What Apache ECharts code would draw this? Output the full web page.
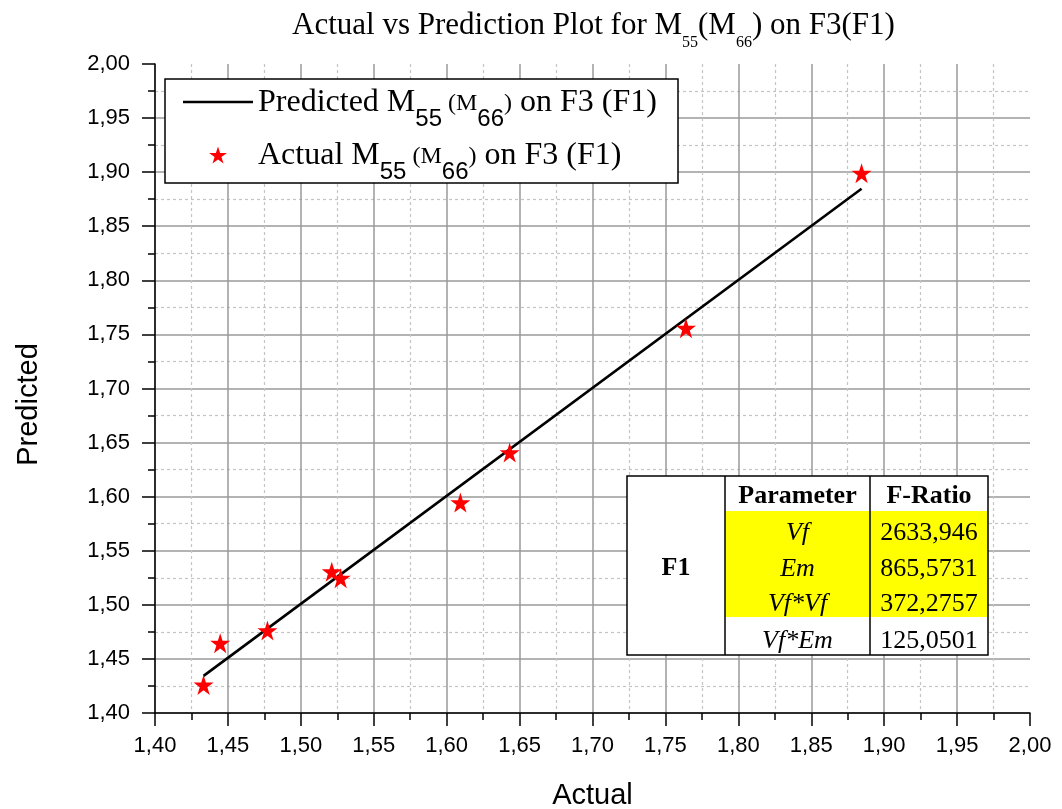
<!DOCTYPE html>
<html>
<head>
<meta charset="utf-8">
<script src="https://cdn.jsdelivr.net/npm/echarts@6/dist/echarts.min.js"></script>
<style>html,body{margin:0;padding:0;background:#fff}#c{width:1062px;height:809px}</style>
</head>
<body>
<div id="c"></div>
<script>
// ---- data ----
const actualX = [1.4333, 1.4447, 1.4771, 1.5212, 1.5273, 1.6094, 1.6432, 1.7641, 1.8845];
const actualY = [1.4260, 1.4645, 1.4762, 1.5307, 1.5246, 1.5945, 1.6408, 1.7558, 1.8991];
const lineX = [1.4333, 1.8845];
const lineY = [1.4343, 1.8846];
const axisMin = 1.40, axisMax = 2.00, axisStep = 0.05;
const tableGroup = 'F1';
const tableHeader = ['Parameter', 'F-Ratio'];
const tableParams = ['Vf', 'Em', 'Vf*Vf', 'Vf*Em'];
const tableFRatio = ['2633,946', '865,5731', '372,2757', '125,0501'];
const seriesNames = ['Predicted M55 (M66) on F3 (F1)', 'Actual M55 (M66) on F3 (F1)'];

const chart = echarts.init(document.getElementById('c'), null, {renderer: 'canvas'});
const fmt = v => v.toFixed(2).replace('.', ',');
const serif = '"Liberation Serif", "Times New Roman", serif';
const sans = '"Liberation Sans", Arial, sans-serif';

const legendRich = {
  m: {fontFamily: serif, fontSize: 32, lineHeight: 32, verticalAlign: 'top', padding: [1, 0, 0, 0], color: '#000'},
  p: {fontFamily: serif, fontSize: 24, lineHeight: 26, verticalAlign: 'top', padding: [6, 0, 0, 0], color: '#000'},
  s: {fontFamily: sans, fontSize: 24, lineHeight: 24, verticalAlign: 'top', padding: [21, 0, 25, 0], color: '#000'}
};
function legendFmt(name) {
  const head = name.startsWith('Predicted') ? 'Predicted' : 'Actual';
  return '{m|' + head + ' M}{s|55}{p| (M}{s|66}{p|)}{m| on F3 (F1)}';
}

// table graphics
const tX = [627, 725, 870, 988];
const tY = [476, 511, 617, 655];
const rowY = [496, 533, 569, 604, 641];
const TZ = 100;
const tbl = [];
tbl.push({type: 'rect', z: TZ, shape: {x: tX[0], y: tY[0], width: tX[3] - tX[0], height: tY[3] - tY[0]}, style: {fill: '#fff'}});
tbl.push({type: 'rect', z: TZ + 1, shape: {x: tX[1], y: tY[1], width: tX[3] - tX[1], height: tY[2] - tY[1]}, style: {fill: '#ffff00'}});
tbl.push({type: 'rect', z: TZ + 2, shape: {x: tX[0], y: tY[0], width: tX[3] - tX[0], height: tY[3] - tY[0]}, style: {fill: 'none', stroke: '#000', lineWidth: 1.5}});
tbl.push({type: 'line', z: TZ + 2, shape: {x1: tX[1], y1: tY[0], x2: tX[1], y2: tY[3]}, style: {stroke: '#000', lineWidth: 1.5}});
tbl.push({type: 'line', z: TZ + 2, shape: {x1: tX[2], y1: tY[0], x2: tX[2], y2: tY[3]}, style: {stroke: '#000', lineWidth: 1.5}});
const tFont = 26;
tbl.push({type: 'text', z: TZ + 3, x: (tX[0] + tX[1]) / 2, y: 568, style: {text: tableGroup, font: 'bold ' + tFont + 'px ' + serif, fill: '#000', align: 'center', verticalAlign: 'middle'}});
tbl.push({type: 'text', z: TZ + 3, x: (tX[1] + tX[2]) / 2, y: rowY[0], style: {text: tableHeader[0], font: 'bold ' + tFont + 'px ' + serif, fill: '#000', align: 'center', verticalAlign: 'middle'}});
tbl.push({type: 'text', z: TZ + 3, x: (tX[2] + tX[3]) / 2, y: rowY[0], style: {text: tableHeader[1], font: 'bold ' + tFont + 'px ' + serif, fill: '#000', align: 'center', verticalAlign: 'middle'}});
tableParams.forEach((p, i) => {
  tbl.push({type: 'text', z: TZ + 3, x: (tX[1] + tX[2]) / 2, y: rowY[i + 1], style: {text: p, font: 'italic ' + tFont + 'px ' + serif, fill: '#000', align: 'center', verticalAlign: 'middle'}});
  tbl.push({type: 'text', z: TZ + 3, x: (tX[2] + tX[3]) / 2, y: rowY[i + 1], style: {text: tableFRatio[i], font: tFont + 'px ' + serif, fill: '#000', align: 'center', verticalAlign: 'middle'}});
});

const starPath = 'path://M50,2 L61.2,36.6 L97.6,36.6 L68.2,58 L79.4,92.6 L50,71.2 L20.6,92.6 L31.8,58 L2.4,36.6 L38.8,36.6 Z';
const lineIcon = 'path://M0,0 L70,0 L70,2.6 L0,2.6 Z';

const axisCommon = {
  type: 'value', min: axisMin, max: axisMax, interval: axisStep,
  axisLine: {show: true, lineStyle: {color: '#000', width: 1.5}},
  axisTick: {show: true, inside: false, length: 13, lineStyle: {color: '#000', width: 1.5}},
  minorTick: {show: true, splitNumber: 2, length: 7, lineStyle: {color: '#000', width: 1.5}},
  splitLine: {show: true, showMaxLine: false, lineStyle: {color: '#9a9a9a', width: 1.5}},
  minorSplitLine: {show: true, lineStyle: {color: '#c4c4c4', width: 1.2, type: [3, 3]}},
  axisLabel: {formatter: fmt, color: '#000', fontFamily: sans, fontSize: 22},
  nameLocation: 'middle'
};

chart.setOption({
  animation: false,
  backgroundColor: '#fff',
  title: {
    text: '{a|Actual vs Prediction Plot for M}{s|55}{a|(M}{s|66}{a|) on F3(F1)}',
    left: 287, top: 5,
    textStyle: {fontWeight: 'normal', rich: {
      a: {fontFamily: serif, fontSize: 31, fontWeight: 'normal', lineHeight: 36, verticalAlign: 'top', color: '#000'},
      s: {fontFamily: serif, fontSize: 16, fontWeight: 'normal', lineHeight: 16, verticalAlign: 'top', padding: [25, 0, 0, 0], color: '#000'}
    }}
  },
  grid: {left: 155, right: 32, top: 64, bottom: 96, outerBoundsMode: 'none', containLabel: false},
  xAxis: Object.assign({}, axisCommon, {name: 'Actual', nameGap: 68,
    nameTextStyle: {fontFamily: sans, fontSize: 29, color: '#000'},
    axisLabel: Object.assign({}, axisCommon.axisLabel, {margin: 22})}),
  yAxis: Object.assign({}, axisCommon, {name: 'Predicted', nameGap: 112,
    nameTextStyle: {fontFamily: sans, fontSize: 29, color: '#000', padding: [0, 32, 0, 0]},
    axisLabel: Object.assign({}, axisCommon.axisLabel, {margin: 25})}),
  legend: {
    orient: 'vertical', left: 183, top: 86,
    padding: 0, itemGap: -17, itemWidth: 70, itemHeight: 17,
    data: [{name: seriesNames[0], icon: lineIcon}, {name: seriesNames[1]}],
    formatter: legendFmt,
    textStyle: {rich: legendRich}
  },
  series: [
    {name: seriesNames[0], type: 'line', data: lineX.map((x, i) => [x, lineY[i]]), symbol: 'none', showSymbol: false,
     lineStyle: {color: '#000', width: 2.6}, itemStyle: {color: '#000'}, z: 3},
    {name: seriesNames[1], type: 'scatter', data: actualX.map((x, i) => [x, actualY[i]]), symbol: starPath, symbolSize: 20,
     itemStyle: {color: '#ff0000', opacity: 1}, z: 4}
  ],
  graphic: [
    {type: 'rect', z: 3, shape: {x: 165, y: 79, width: 513, height: 104}, style: {fill: '#fff', stroke: '#000', lineWidth: 1.5}},
    {type: 'group', z: TZ, children: tbl}
  ]
});
</script>
</body>
</html>
